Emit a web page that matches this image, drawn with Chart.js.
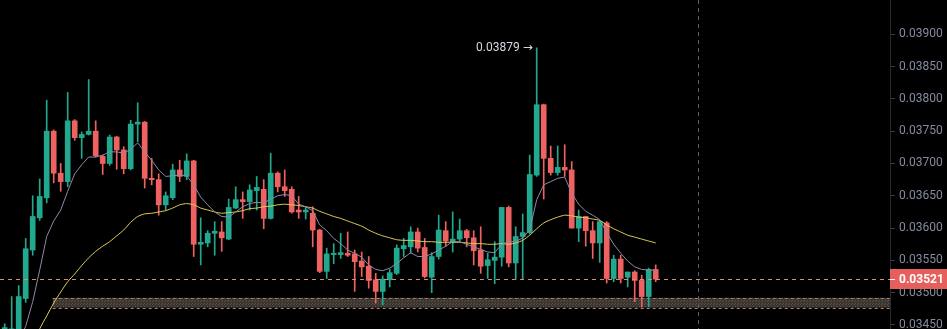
<!DOCTYPE html>
<html>
<head>
<meta charset="utf-8">
<script src="https://cdn.jsdelivr.net/npm/chart.js@4.4.1/dist/chart.umd.min.js"></script>
<style>
  html, body { margin: 0; padding: 0; background: #000; }
  #chart { display: block; background: #000; }
</style>
</head>
<body>
<canvas id="chart" width="947" height="329"></canvas>
<script>
var open = [0.03430,0.03432,0.03440,0.03491,0.03566,0.03616,0.03647,0.03750,0.03685,0.03672,
  0.03766,0.03740,0.03745,0.03750,0.03711,0.03700,0.03741,0.03721,0.03692,0.03761,
  0.03764,0.03677,0.03675,0.03636,0.03647,0.03690,0.03680,0.03704,0.03575,0.03577,
  0.03592,0.03594,0.03583,0.03631,0.03644,0.03641,0.03658,0.03660,0.03615,0.03685,
  0.03664,0.03660,0.03628,0.03625,0.03623,0.03597,0.03533,0.03559,0.03559,0.03561,
  0.03560,0.03549,0.03541,0.03520,0.03502,0.03520,0.03530,0.03568,0.03571,0.03594,
  0.03570,0.03524,0.03556,0.03596,0.03579,0.03583,0.03596,0.03585,0.03566,0.03542,
  0.03550,0.03555,0.03632,0.03546,0.03587,0.03593,0.03682,0.03791,0.03708,0.03686,
  0.03694,0.03690,0.03600,0.03618,0.03596,0.03577,0.03608,0.03522,0.03552,0.03524,
  0.03532,0.03519,0.03494,0.03536];
var high = [0.03452,0.03494,0.03511,0.03584,0.03650,0.03676,0.03798,0.03752,0.03700,0.03810,
  0.03768,0.03749,0.03830,0.03766,0.03713,0.03744,0.03742,0.03726,0.03767,0.03794,
  0.03765,0.03708,0.03684,0.03656,0.03699,0.03705,0.03715,0.03705,0.03616,0.03596,
  0.03610,0.03610,0.03645,0.03664,0.03656,0.03667,0.03680,0.03675,0.03716,0.03687,
  0.03690,0.03664,0.03649,0.03633,0.03633,0.03598,0.03569,0.03576,0.03592,0.03594,
  0.03566,0.03563,0.03556,0.03530,0.03526,0.03536,0.03574,0.03584,0.03602,0.03600,
  0.03584,0.03562,0.03620,0.03610,0.03625,0.03614,0.03598,0.03596,0.03602,0.03561,
  0.03579,0.03632,0.03634,0.03602,0.03622,0.03713,0.03879,0.03792,0.03727,0.03727,
  0.03729,0.03703,0.03628,0.03618,0.03610,0.03612,0.03610,0.03558,0.03558,0.03532,
  0.03534,0.03527,0.03538,0.03543];
var low = [0.03420,0.03425,0.03432,0.03485,0.03558,0.03612,0.03639,0.03670,0.03657,0.03664,
  0.03736,0.03708,0.03744,0.03710,0.03683,0.03697,0.03691,0.03684,0.03690,0.03734,
  0.03662,0.03667,0.03620,0.03628,0.03644,0.03672,0.03675,0.03556,0.03543,0.03571,
  0.03558,0.03564,0.03582,0.03630,0.03615,0.03628,0.03628,0.03599,0.03614,0.03656,
  0.03649,0.03623,0.03615,0.03614,0.03571,0.03531,0.03522,0.03545,0.03553,0.03556,
  0.03502,0.03525,0.03507,0.03484,0.03481,0.03509,0.03528,0.03556,0.03561,0.03563,
  0.03523,0.03500,0.03552,0.03572,0.03563,0.03580,0.03571,0.03543,0.03530,0.03522,
  0.03514,0.03541,0.03540,0.03521,0.03521,0.03591,0.03680,0.03645,0.03682,0.03682,
  0.03680,0.03600,0.03579,0.03572,0.03553,0.03547,0.03515,0.03517,0.03515,0.03509,
  0.03486,0.03478,0.03478,0.03517];
var close = [0.03446,0.03444,0.03494,0.03568,0.03618,0.03649,0.03750,0.03685,0.03672,0.03766,
  0.03740,0.03745,0.03750,0.03712,0.03700,0.03741,0.03721,0.03692,0.03761,0.03764,
  0.03677,0.03675,0.03636,0.03650,0.03690,0.03680,0.03704,0.03575,0.03578,0.03592,
  0.03595,0.03585,0.03632,0.03644,0.03641,0.03659,0.03663,0.03615,0.03685,0.03664,
  0.03658,0.03625,0.03625,0.03628,0.03597,0.03533,0.03560,0.03561,0.03562,0.03558,
  0.03548,0.03540,0.03519,0.03502,0.03521,0.03531,0.03569,0.03573,0.03594,0.03569,
  0.03525,0.03556,0.03597,0.03580,0.03583,0.03596,0.03585,0.03565,0.03541,0.03551,
  0.03555,0.03632,0.03546,0.03587,0.03593,0.03683,0.03791,0.03708,0.03686,0.03694,
  0.03690,0.03600,0.03618,0.03596,0.03577,0.03610,0.03522,0.03552,0.03522,0.03532,
  0.03519,0.03494,0.03536,0.03521];

// moving averages as they show on the picture
var maFast = [null,null,0.03425,0.03448,0.03486,0.03535,0.03587,0.03611,0.03628,0.03657,
  0.03684,0.03698,0.03710,0.03710,0.03713,0.03718,0.03718,0.03716,0.03722,0.03732,
  0.03718,0.03705,0.03690,0.03680,0.03681,0.03682,0.03681,0.03667,0.03648,0.03636,
  0.03625,0.03618,0.03617,0.03625,0.03633,0.03638,0.03640,0.03639,0.03645,0.03650,
  0.03652,0.03650,0.03637,0.03633,0.03627,0.03605,0.03596,0.03584,0.03576,0.03566,
  0.03561,0.03555,0.03543,0.03536,0.03534,0.03538,0.03545,0.03554,0.03562,0.03556,
  0.03556,0.03560,0.03566,0.03572,0.03579,0.03579,0.03575,0.03571,0.03567,0.03563,
  0.03562,0.03575,0.03579,0.03579,0.03585,0.03597,0.03644,0.03667,0.03672,0.03677,
  0.03679,0.03654,0.03637,0.03626,0.03620,0.03613,0.03593,0.03575,0.03561,0.03549,
  0.03540,0.03536,0.03535,0.03535];
var maSlow = [null,null,null,null,0.03419,0.03444,0.03464,0.03484,0.03501,0.03517,
  0.03529,0.03542,0.03554,0.03564,0.03572,0.03579,0.03588,0.03597,0.03609,0.03618,
  0.03622,0.03623,0.03625,0.03627,0.03631,0.03636,0.03638,0.03636,0.03631,0.03628,
  0.03625,0.03623,0.03624,0.03625,0.03627,0.03630,0.03631,0.03633,0.03634,0.03636,
  0.03637,0.03636,0.03635,0.03633,0.03631,0.03626,0.03622,0.03618,0.03615,0.03611,
  0.03607,0.03603,0.03597,0.03592,0.03588,0.03585,0.03582,0.03581,0.03581,0.03580,
  0.03579,0.03579,0.03578,0.03578,0.03578,0.03578,0.03577,0.03576,0.03576,0.03575,
  0.03575,0.03576,0.03575,0.03577,0.03581,0.03589,0.03599,0.03608,0.03613,0.03617,
  0.03620,0.03619,0.03617,0.03616,0.03614,0.03612,0.03605,0.03599,0.03594,0.03589,
  0.03586,0.03583,0.03580,0.03577];

var yTicks = [0.0345, 0.0350, 0.0355, 0.0360, 0.0365, 0.0370, 0.0375, 0.0380, 0.0385, 0.0390];
var lastPrice = 0.03521;
var bandTop = 0.03492;
var bandBottom = 0.03477;
var bandStart = 7;
var crosshairIndex = 99;

var upColor = "#22a88f";
var downColor = "#ef6262";

function candleColor(i) {
  return close[i] >= open[i] ? upColor : downColor;
}

function dotPattern(ctx) {
  var c = document.createElement("canvas");
  c.width = 3;
  c.height = 3;
  var g = c.getContext("2d");
  g.fillStyle = "#38342f";
  g.fillRect(0, 0, 3, 3);
  g.fillStyle = "#5c544c";
  g.fillRect(0, 0, 1, 1);
  g.fillRect(2, 1, 1, 1);
  return ctx.createPattern(c, "repeat");
}

var overlays = {
  id: "overlays",
  beforeDatasetsDraw: function (chart) {
    var ctx = chart.ctx;
    var area = chart.chartArea;
    var xs = chart.scales.x;
    var ys = chart.scales.y;
    var x0 = xs.getPixelForValue(bandStart) - 1;
    var yT = ys.getPixelForValue(bandTop);
    var yB = ys.getPixelForValue(bandBottom);
    ctx.save();
    ctx.fillStyle = dotPattern(ctx);
    ctx.fillRect(x0, yT, area.right - x0, yB - yT);
    ctx.strokeStyle = "#b9806a";
    ctx.lineWidth = 1;
    ctx.setLineDash([3, 3]);
    ctx.beginPath();
    ctx.moveTo(x0, Math.round(yT) + 0.5);
    ctx.lineTo(area.right, Math.round(yT) + 0.5);
    ctx.moveTo(x0, Math.round(yB) + 0.5);
    ctx.lineTo(area.right, Math.round(yB) + 0.5);
    ctx.stroke();

    // crosshair
    var cx = Math.round(xs.getPixelForValue(crosshairIndex)) + 0.5;
    ctx.strokeStyle = "#5d6070";
    ctx.setLineDash([4, 4]);
    ctx.beginPath();
    ctx.moveTo(cx, 0);
    ctx.lineTo(cx, chart.height);
    ctx.stroke();
    ctx.restore();
  },
  afterDraw: function (chart) {
    var ctx = chart.ctx;
    var area = chart.chartArea;
    var xs = chart.scales.x;
    var ys = chart.scales.y;
    var py = Math.round(ys.getPixelForValue(lastPrice)) + 0.5;

    ctx.save();
    ctx.strokeStyle = "#dd8a72";
    ctx.lineWidth = 1;
    ctx.setLineDash([4, 4]);
    ctx.beginPath();
    ctx.moveTo(area.left, py);
    ctx.lineTo(area.right, py);
    ctx.stroke();
    ctx.setLineDash([]);

    // last price label
    ctx.fillStyle = "#e5605d";
    ctx.fillRect(area.right, py - 10.5, chart.width - area.right, 20);
    ctx.strokeStyle = "#ffffff";
    ctx.beginPath();
    ctx.moveTo(area.right, py);
    ctx.lineTo(area.right + 5, py);
    ctx.stroke();
    ctx.fillStyle = "#ffffff";
    ctx.font = "bold 12px Roboto, 'DejaVu Sans', sans-serif";
    ctx.textAlign = "left";
    ctx.textBaseline = "middle";
    ctx.fillText(lastPrice.toFixed(5), area.right + 9, py + 0.5);

    // highest high marker
    var hi = 0;
    for (var i = 1; i < high.length; i++) {
      if (high[i] > high[hi]) hi = i;
    }
    var hx = xs.getPixelForValue(hi);
    var hy = ys.getPixelForValue(high[hi]);
    ctx.fillStyle = "#d6d8e0";
    ctx.font = "12px Roboto, 'DejaVu Sans', sans-serif";
    ctx.textAlign = "right";
    ctx.fillText(high[hi].toFixed(5) + " \u2192", hx - 4, hy);
    ctx.restore();
  }
};

var ctx = document.getElementById("chart").getContext("2d");

new Chart(ctx, {
  type: "bar",
  data: {
    datasets: [
      {
        type: "line",
        data: maFast.map(function (v, i) { return { x: i, y: v }; }),
        borderColor: "#8d89a6",
        borderWidth: 1,
        pointRadius: 0,
        tension: 0,
        order: 0,
      },
      {
        type: "line",
        data: maSlow.map(function (v, i) { return { x: i, y: v }; }),
        borderColor: "#e2cf55",
        borderWidth: 1,
        pointRadius: 0,
        tension: 0.2,
        order: 0,
      },
      {
        data: open.map(function (o, i) { return { x: i, y: [o, close[i]] }; }),
        backgroundColor: function (c) { return candleColor(c.dataIndex); },
        barThickness: 5,
        minBarLength: 1,
        grouped: false,
        borderWidth: 0,
        order: 1,
      },
      {
        data: low.map(function (l, i) { return { x: i, y: [l, high[i]] }; }),
        backgroundColor: function (c) { return candleColor(c.dataIndex); },
        barThickness: 1,
        grouped: false,
        borderWidth: 0,
        order: 2,
      },
    ],
  },
  options: {
    responsive: false,
    animation: false,
    layout: { padding: 0 },
    plugins: {
      legend: { display: false },
      tooltip: { enabled: false },
    },
    scales: {
      x: {
        type: "linear",
        display: false,
        offset: false,
        grid: { offset: false },
        min: -0.671,
        max: 126.47,
      },
      y: {
        position: "right",
        min: 0.034438,
        max: 0.039531,
        afterBuildTicks: function (scale) {
          scale.ticks = yTicks.map(function (v) { return { value: v }; });
        },
        afterFit: function (scale) {
          scale.width = 57;
          scale.paddingTop = 0;
          scale.paddingBottom = 0;
        },
        border: { display: true, color: "#262a35" },
        grid: {
          drawOnChartArea: false,
          drawTicks: true,
          tickLength: 5,
          color: "#3a3e4c",
        },
        ticks: {
          padding: 4,
          color: "#858aa0",
          font: { size: 12, family: "Roboto" },
          callback: function (v) { return Number(v).toFixed(5); },
        },
      },
    },
  },
  plugins: [overlays],
});
</script>
</body>
</html>
